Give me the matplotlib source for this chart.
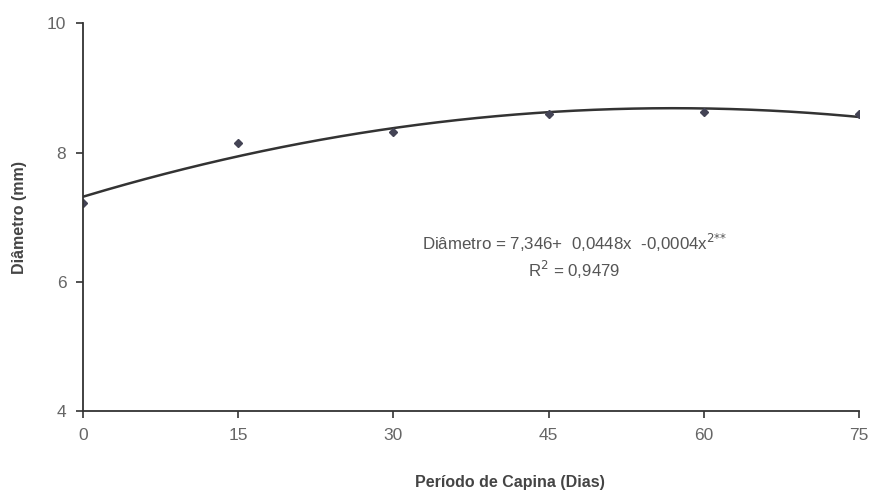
import numpy as np
import matplotlib.pyplot as plt

plt.rcParams['font.family'] = ['Liberation Sans', 'DejaVu Sans']

# dados
dias = [0, 15, 30, 45, 60, 75]
diametro = [7.22, 8.14, 8.31, 8.60, 8.62, 8.60]
xticks = [0, 15, 30, 45, 60, 75]
yticks = [4, 6, 8, 10]

# ajuste quadrático (linha de tendência)
coef = np.polyfit(dias, diametro, 2)
xs = np.linspace(0, 75, 200)
ys = np.polyval(coef, xs)

fig = plt.figure(figsize=(8.74, 4.93), dpi=100)
ax = fig.add_axes([0.095, 0.166, 0.888, 0.787])

ax.plot(xs, ys, color='#333333', lw=1.8)
ax.plot(dias, diametro, 'D', color='#444455', markersize=4.5)

ax.set_xlim(0, 75)
ax.set_ylim(4, 10)
ax.set_xticks(xticks)
ax.set_yticks(yticks)

for s in ['top', 'right']:
    ax.spines[s].set_visible(False)
for s in ['left', 'bottom']:
    ax.spines[s].set_color('#333333')
    ax.spines[s].set_linewidth(1.3)
ax.tick_params(direction='out', length=5, width=1.2, color='#333333',
               labelsize=12.5, labelcolor='#666666', pad=7)

ax.set_xlabel('Período de Capina (Dias)', fontsize=11.5, fontweight='bold',
              color='#444444')
ax.xaxis.set_label_coords(0.55, -0.165)
ax.set_ylabel('Diâmetro (mm)', fontsize=11.5, fontweight='bold', color='#444444')
ax.yaxis.set_label_coords(-0.072, 0.5)

ax.text(47.5, 6.6, 'Diâmetro = 7,346+  0,0448x  -0,0004x$^{2{*}{*}}$',
        ha='center', va='center', fontsize=12.2, color='#555555')
ax.text(47.5, 6.18, 'R$^2$ = 0,9479', ha='center', va='center',
        fontsize=12.2, color='#555555')

fig.savefig('out.png', dpi=100)
